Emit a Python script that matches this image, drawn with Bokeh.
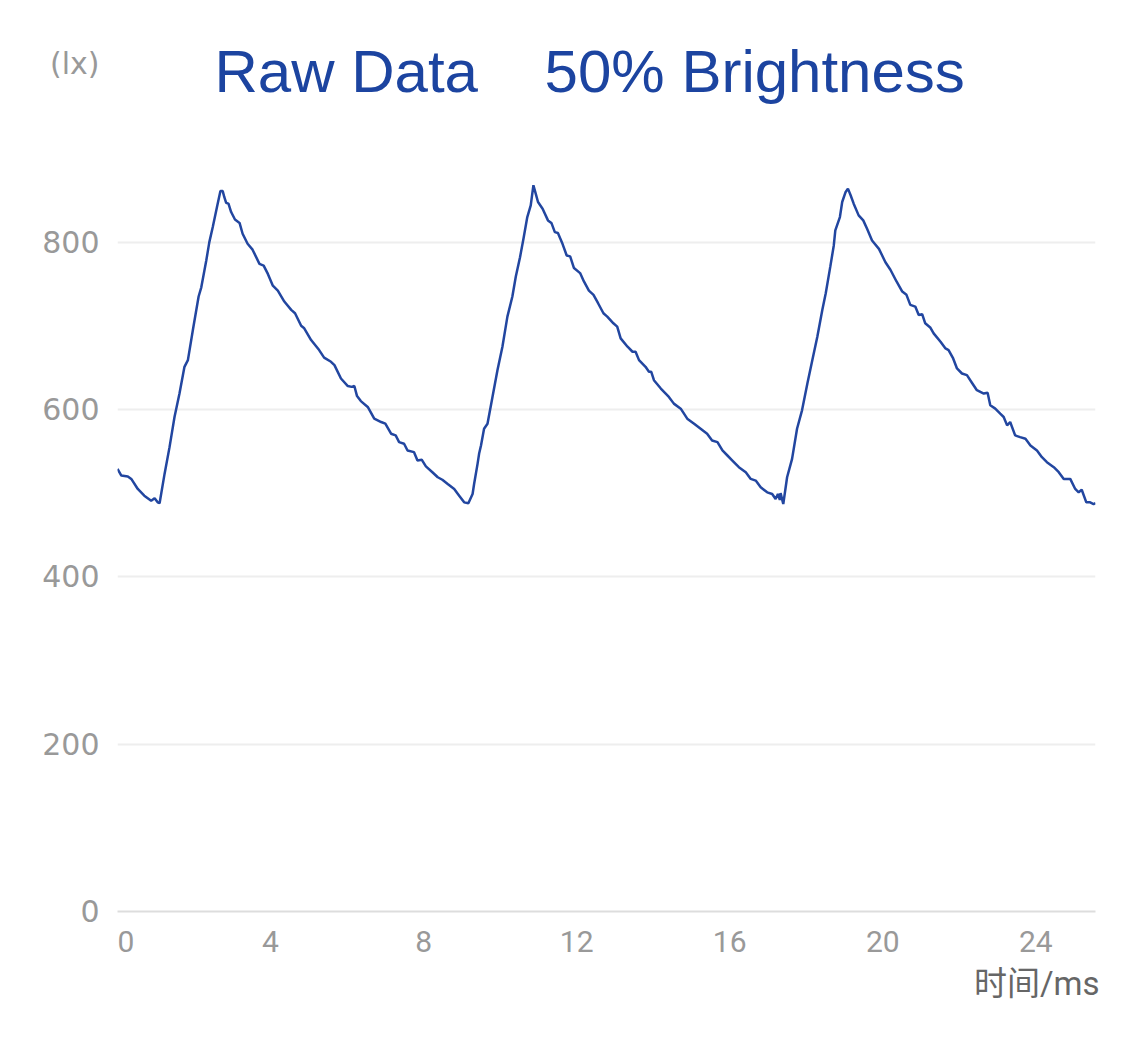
from bokeh.plotting import figure
from bokeh.models import Range1d, FixedTicker, Label, ColumnDataSource, Title
from bokeh.embed import file_html
from bokeh.resources import INLINE

# ---- data ----
time_ms = [
    0.00, 0.10, 0.27, 0.36, 0.53, 0.70, 0.88, 0.97, 1.05, 1.10,
    1.23, 1.36, 1.49, 1.62, 1.75, 1.84, 1.97, 2.12, 2.19, 2.32,
    2.40, 2.49, 2.60, 2.69, 2.75, 2.79, 2.84, 2.90, 2.97, 3.07,
    3.19, 3.27, 3.40, 3.53, 3.71, 3.82, 3.93, 4.06, 4.19, 4.36,
    4.54, 4.64, 4.80, 4.88, 5.06, 5.27, 5.40, 5.58, 5.67, 5.84,
    6.02, 6.12, 6.19, 6.26, 6.36, 6.54, 6.71, 6.89, 7.00, 7.15,
    7.27, 7.36, 7.49, 7.58, 7.75, 7.84, 7.95, 8.06, 8.23, 8.37,
    8.49, 8.63, 8.80, 8.93, 9.06, 9.17, 9.28, 9.32, 9.41, 9.45,
    9.50, 9.58, 9.67, 9.80, 9.93, 10.06, 10.19, 10.32, 10.41, 10.52,
    10.61, 10.71, 10.80, 10.87, 10.93, 10.99, 11.11, 11.25, 11.34, 11.43,
    11.51, 11.63, 11.74, 11.83, 11.93, 12.09, 12.19, 12.32, 12.44, 12.56,
    12.70, 12.80, 12.96, 13.06, 13.15, 13.33, 13.46, 13.54, 13.63, 13.80,
    13.89, 13.95, 14.02, 14.20, 14.41, 14.54, 14.72, 14.89, 15.07, 15.24,
    15.41, 15.54, 15.68, 15.81, 15.94, 16.07, 16.24, 16.42, 16.55, 16.68,
    16.81, 16.98, 17.11, 17.20, 17.26, 17.31, 17.33, 17.40, 17.50, 17.63,
    17.76, 17.89, 18.03, 18.16, 18.29, 18.42, 18.51, 18.63, 18.72, 18.76,
    18.88, 18.94, 19.03, 19.09, 19.16, 19.24, 19.37, 19.49, 19.59, 19.72,
    19.90, 20.07, 20.20, 20.36, 20.51, 20.62, 20.72, 20.85, 20.94, 21.03,
    21.11, 21.24, 21.33, 21.51, 21.64, 21.72, 21.84, 21.94, 22.07, 22.20,
    22.33, 22.46, 22.64, 22.74, 22.81, 22.94, 23.07, 23.16, 23.25, 23.33,
    23.46, 23.59, 23.73, 23.86, 24.03, 24.16, 24.29, 24.47, 24.60, 24.73,
    24.90, 25.03, 25.12, 25.20, 25.32, 25.42, 25.51, 25.56,
]
lux = [
    529, 521, 520, 517, 505, 497, 491, 494, 489, 488,
    523, 555, 591, 619, 651, 659, 695, 735, 746, 778,
    800, 818, 842, 861, 861, 854, 847, 846, 836, 827,
    823, 810, 798, 791, 774, 772, 762, 748, 742, 729,
    719, 715, 700, 697, 683, 671, 662, 657, 653, 637,
    628, 627, 628, 616, 610, 603, 589, 585, 583, 571,
    569, 561, 559, 551, 549, 539, 540, 532, 525, 519,
    516, 511, 505, 497, 489, 488, 499, 511, 535, 547,
    557, 577, 583, 615, 647, 675, 711, 735, 759, 782,
    804, 830, 844, 868, 858, 848, 840, 826, 823, 812,
    811, 798, 784, 783, 769, 763, 753, 742, 737, 727,
    715, 711, 703, 699, 685, 675, 669, 669, 659, 651,
    645, 645, 635, 625, 615, 607, 601, 589, 583, 577,
    571, 563, 561, 551, 545, 539, 531, 525, 517, 515,
    507, 501, 499, 493, 499, 492, 500, 487, 519, 541,
    577, 599, 631, 659, 687, 719, 739, 771, 796, 814,
    830, 848, 860, 864, 856, 846, 832, 826, 816, 802,
    792, 776, 767, 753, 741, 737, 725, 723, 713, 714,
    703, 698, 691, 681, 673, 671, 661, 649, 643, 641,
    632, 623, 619, 620, 605, 601, 595, 591, 581, 585,
    569, 567, 565, 557, 551, 543, 537, 531, 525, 517,
    517, 505, 501, 504, 489, 489, 487, 488,
]
x_ticks = [0, 4, 8, 12, 16, 20, 24]
y_ticks = [0, 200, 400, 600, 800]
NB = "\u00a0"
title_text = "Raw Data" + NB * 4 + "50% Brightness"
y_unit = "(lx)"
x_title = "时间/ms"

# ---- layout constants (canvas pixels) ----
W, H = 1125, 1040
FL, FR, FB = 117, 1095, 911          # frame left / right / bottom
X_MAX = 25.56                        # ms at right frame edge
PX_PER_LX = 0.8367                   # vertical scale
Y_MAX = FB / PX_PER_LX               # frame reaches the canvas top

def data_x(cx):
    return (cx - FL) / (FR - FL) * X_MAX

def data_y(cy):
    return (FB - cy) / PX_PER_LX

p = figure(
    width=W, height=H, output_backend="svg", toolbar_location=None,
    x_range=Range1d(0, X_MAX), y_range=Range1d(0, Y_MAX),
    min_border_left=FL, min_border_right=W - FR,
    min_border_top=0, min_border_bottom=H - FB,
    background_fill_color="white", border_fill_color="white",
)
p.outline_line_color = None

src = ColumnDataSource(data=dict(t=time_ms, v=lux))
p.line("t", "v", source=src, line_color="#2246a0", line_width=2.5)

# unit text "(lx)" sits in the y-axis label column, above the plotted values
unit_pos = data_y(63)

# axes
p.xaxis.ticker = FixedTicker(ticks=x_ticks)
p.yaxis.ticker = FixedTicker(ticks=y_ticks + [unit_pos])
p.yaxis.major_label_overrides = {unit_pos: y_unit}
p.xaxis.major_label_overrides = {0: "\u20070"}
for ax in (p.xaxis[0], p.yaxis[0]):
    ax.major_tick_line_color = None
    ax.minor_tick_line_color = None
    ax.major_label_text_color = "#999999"
p.yaxis.axis_line_color = None
p.xaxis.axis_line_color = "#dddddd"
p.xaxis.axis_line_width = 2
p.xaxis.major_label_text_font = "Roboto"
p.xaxis.major_label_text_font_size = "30px"
p.xaxis.major_label_standoff = 6
p.yaxis.major_label_text_font = "DejaVu Sans"
p.yaxis.major_label_text_font_size = "30px"
p.yaxis.major_label_standoff = 12

p.xgrid.grid_line_color = None
p.ygrid.ticker = FixedTicker(ticks=y_ticks)
p.ygrid.grid_line_color = "#eeeeee"
p.ygrid.grid_line_width = 2

# main title (inside the extended frame, above the data)
p.add_layout(Label(x=data_x(214), y=data_y(71),
                   text=title_text, text_font="Liberation Sans", text_font_size="60px",
                   text_color="#1c44a0", text_align="left", text_baseline="alphabetic"))

# x axis title (bottom right)
p.add_layout(Title(text=x_title, align="right", offset=-4, standoff=0,
                   text_font="Roboto, 'Noto Sans CJK SC'", text_font_size="33px",
                   text_font_style="normal", text_color="#666666"), "below")

open("out.html", "w").write(file_html(p, INLINE))
